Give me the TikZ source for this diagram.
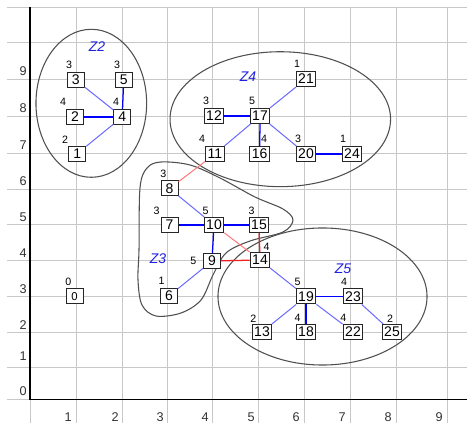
\documentclass[tikz,border=0pt]{standalone}
\usepackage{fontspec}
\setmainfont{Liberation Sans}
\definecolor{gridc}{HTML}{C8C8C8}
\definecolor{hullc}{HTML}{505050}
\definecolor{eblue}{HTML}{0000FF}
\definecolor{eblueL}{HTML}{6A6AFF}
\definecolor{ered}{HTML}{F02020}
\definecolor{eredL}{HTML}{FF7878}
\definecolor{zlab}{HTML}{2020E0}
\begin{document}
\begin{tikzpicture}[x=0.75pt,y=-0.75pt,
  gridline/.style={draw=gridc,line width=0.75pt},
  axisline/.style={draw=black,line width=0.9pt},
  axlab/.style={inner sep=0pt,font=\fontsize{9.5}{9.5}\selectfont,text=black!80},
  vtx/.style={draw=black!85,fill=white,line width=0.75pt,inner xsep=1.6pt,inner ysep=1.9pt,
    minimum width=12.75pt,minimum height=11.25pt,font=\fontsize{10.5}{10.5}\selectfont},
  deg/.style={inner sep=0pt,font=\fontsize{8}{8}\selectfont},
  hull/.style={draw=hullc,line width=0.8pt},
  zl/.style={inner sep=0pt,text=zlab,font=\fontsize{10.5}{10.5}\selectfont\itshape},
  eb/.style={draw=eblue,line width=0.95pt},
  ebl/.style={draw=eblueL,line width=0.75pt},
  er/.style={draw=ered,line width=0.95pt},
  erl/.style={draw=eredL,line width=0.75pt}]
\useasboundingbox (0,0) rectangle (467,423);
\fill[white] (0,0) rectangle (467,423);

% grid
\foreach \gx in {76,122.5,167.3,212.7,258.3,304,350,396.5,447.5}
  \draw[gridline] (\gx,7.3) -- (\gx,423);
\foreach \gy in {7.3,42.7,79.3,116.7,153.3,189.3,225,261,296.7,332.7,367.7}
  \draw[gridline] (7,\gy) -- (467,\gy);
\draw[gridline] (30,399.3) -- (30,423);
\draw[gridline] (7,399.3) -- (30,399.3);

% axes
\draw[axisline] (30,7.3) -- (30,399.3) -- (467,399.3);

% axis labels
\node[axlab,anchor=south east] (ly9) at (27,76) {9};
\node[axlab,anchor=south east] (ly8) at (27,113) {8};
\node[axlab,anchor=south east] (ly7) at (27,150) {7};
\node[axlab,anchor=south east] (ly6) at (27,186) {6};
\node[axlab,anchor=south east] (ly5) at (27,221.5) {5};
\node[axlab,anchor=south east] (ly4) at (27,258) {4};
\node[axlab,anchor=south east] (ly3) at (27,294) {3};
\node[axlab,anchor=south east] (ly2) at (27,330) {2};
\node[axlab,anchor=south east] (ly1) at (27,361) {1};
\node[axlab,anchor=south east] (ly0) at (27,395.5) {0};
\node[axlab,anchor=north east] (lx1) at (72,412.5) {1};
\node[axlab,anchor=north east] (lx2) at (119,412.5) {2};
\node[axlab,anchor=north east] (lx3) at (164,412.5) {3};
\node[axlab,anchor=north east] (lx4) at (209,412.5) {4};
\node[axlab,anchor=north east] (lx5) at (255,412.5) {5};
\node[axlab,anchor=north east] (lx6) at (300,412.5) {6};
\node[axlab,anchor=north east] (lx7) at (346,412.5) {7};
\node[axlab,anchor=north east] (lx8) at (392,412.5) {8};
\node[axlab,anchor=north east] (lx9) at (443,412.5) {9};

% cluster hulls
\draw[hull] (91.3,103.3) ellipse [x radius=41.5pt, y radius=55.5pt];
\draw[hull] (280.3,119.2) ellipse [x radius=82.7pt, y radius=50.6pt];
\draw[hull] (322.5,296.5) ellipse [x radius=78.4pt, y radius=51.4pt];
\draw[hull] plot[smooth cycle, tension=0.55] coordinates {
  (139,250) (140,188) (147,168) (161,162) (190,165) (220,178) (255,197)
  (283,209) (293,220) (283,232) (250,241) (226,253) (213,275) (201,300)
  (181,313) (156,316) (142,305) (138,280)};

% cluster names
\node[zl] (z2) at (97,47) {Z2};
\node[zl] (z4) at (248,77) {Z4};
\node[zl] (z3) at (158,259) {Z3};
\node[zl] (z5) at (343,269) {Z5};

% vertices
\node[vtx,font=\fontsize{8.5}{8.5}\selectfont] (n0) at (74.5,296.3) {0};
\node[vtx] (n1) at (77.2,153.7) {1};
\node[vtx] (n2) at (75,117) {2};
\node[vtx] (n3) at (75.8,80) {3};
\node[vtx] (n4) at (122.2,117) {4};
\node[vtx] (n5) at (123.7,80) {5};
\node[vtx] (n6) at (169,296) {6};
\node[vtx] (n7) at (169.5,225) {7};
\node[vtx] (n8) at (169.5,188.5) {8};
\node[vtx] (n9) at (212,261) {9};
\node[vtx] (n10) at (214,225) {10};
\node[vtx] (n11) at (215,154) {11};
\node[vtx] (n12) at (214,116) {12};
\node[vtx] (n13) at (262,332) {13};
\node[vtx] (n14) at (260,260) {14};
\node[vtx] (n15) at (259,225) {15};
\node[vtx] (n16) at (259.7,154) {16};
\node[vtx] (n17) at (260,116) {17};
\node[vtx] (n18) at (306,332) {18};
\node[vtx] (n19) at (306,296.5) {19};
\node[vtx] (n20) at (306,154) {20};
\node[vtx] (n21) at (306,79) {21};
\node[vtx] (n22) at (353,332) {22};
\node[vtx] (n23) at (353,296.5) {23};
\node[vtx] (n24) at (352,154) {24};
\node[vtx] (n25) at (392,332) {25};

% vertex degrees
\node[deg] (d0) at (68.3,281.7) {0};
\node[deg] (d1) at (65,140) {2};
\node[deg] (d2) at (63,102) {4};
\node[deg] (d3) at (69,65) {3};
\node[deg] (d4) at (116,102) {4};
\node[deg] (d5) at (117,65) {3};
\node[deg] (d6) at (161.7,280.7) {1};
\node[deg] (d7) at (156.7,210.7) {3};
\node[deg] (d8) at (163.3,174) {3};
\node[deg] (d9) at (193.3,260.7) {5};
\node[deg] (d10) at (205.7,210.7) {5};
\node[deg] (d11) at (202,139) {4};
\node[deg] (d12) at (206,101) {3};
\node[deg] (d13) at (253.3,318.3) {2};
\node[deg] (d14) at (266.7,247.3) {4};
\node[deg] (d15) at (251.7,210.7) {3};
\node[deg] (d16) at (264,139) {4};
\node[deg] (d17) at (252,101) {5};
\node[deg] (d18) at (297.7,318.3) {4};
\node[deg] (d19) at (297.7,281.7) {5};
\node[deg] (d20) at (298,139) {3};
\node[deg] (d21) at (297,64) {1};
\node[deg] (d22) at (343.3,318.3) {4};
\node[deg] (d23) at (344,281.7) {4};
\node[deg] (d24) at (343,139) {1};
\node[deg] (d25) at (390,318.3) {2};

% edges inside clusters
\draw[ebl] (n3) -- (n4);
\draw[eb,line width=1.3pt] (n2) -- (n4);
\draw[eb] (n5) -- (n4);
\draw[ebl] (n1) -- (n4);
\draw[eb] (n12) -- (n17);
\draw[ebl] (n17) -- (n21);
\draw[ebl] (n17) -- (n11);
\draw[eb] (n17) -- (n16);
\draw[ebl] (n17) -- (n20);
\draw[eb] (n20) -- (n24);
\draw[ebl] (n8) -- (n10);
\draw[eb] (n7) -- (n10);
\draw[eb] (n10) -- (n15);
\draw[eb] (n10) -- (n9);
\draw[ebl] (n9) -- (n6);
\draw[ebl] (n14) -- (n19);
\draw[eb] (n19) -- (n23);
\draw[ebl] (n19) -- (n13);
\draw[eb] (n19) -- (n18);
\draw[ebl] (n19) -- (n22);
\draw[ebl] (n23) -- (n25);

% edges between clusters
\draw[erl] (n11) -- (n8);
\draw[erl] (n10) -- (n14);
\draw[er] (n9) -- (n14);
\draw[er] (n15) -- (n14);
\end{tikzpicture}
\end{document}
